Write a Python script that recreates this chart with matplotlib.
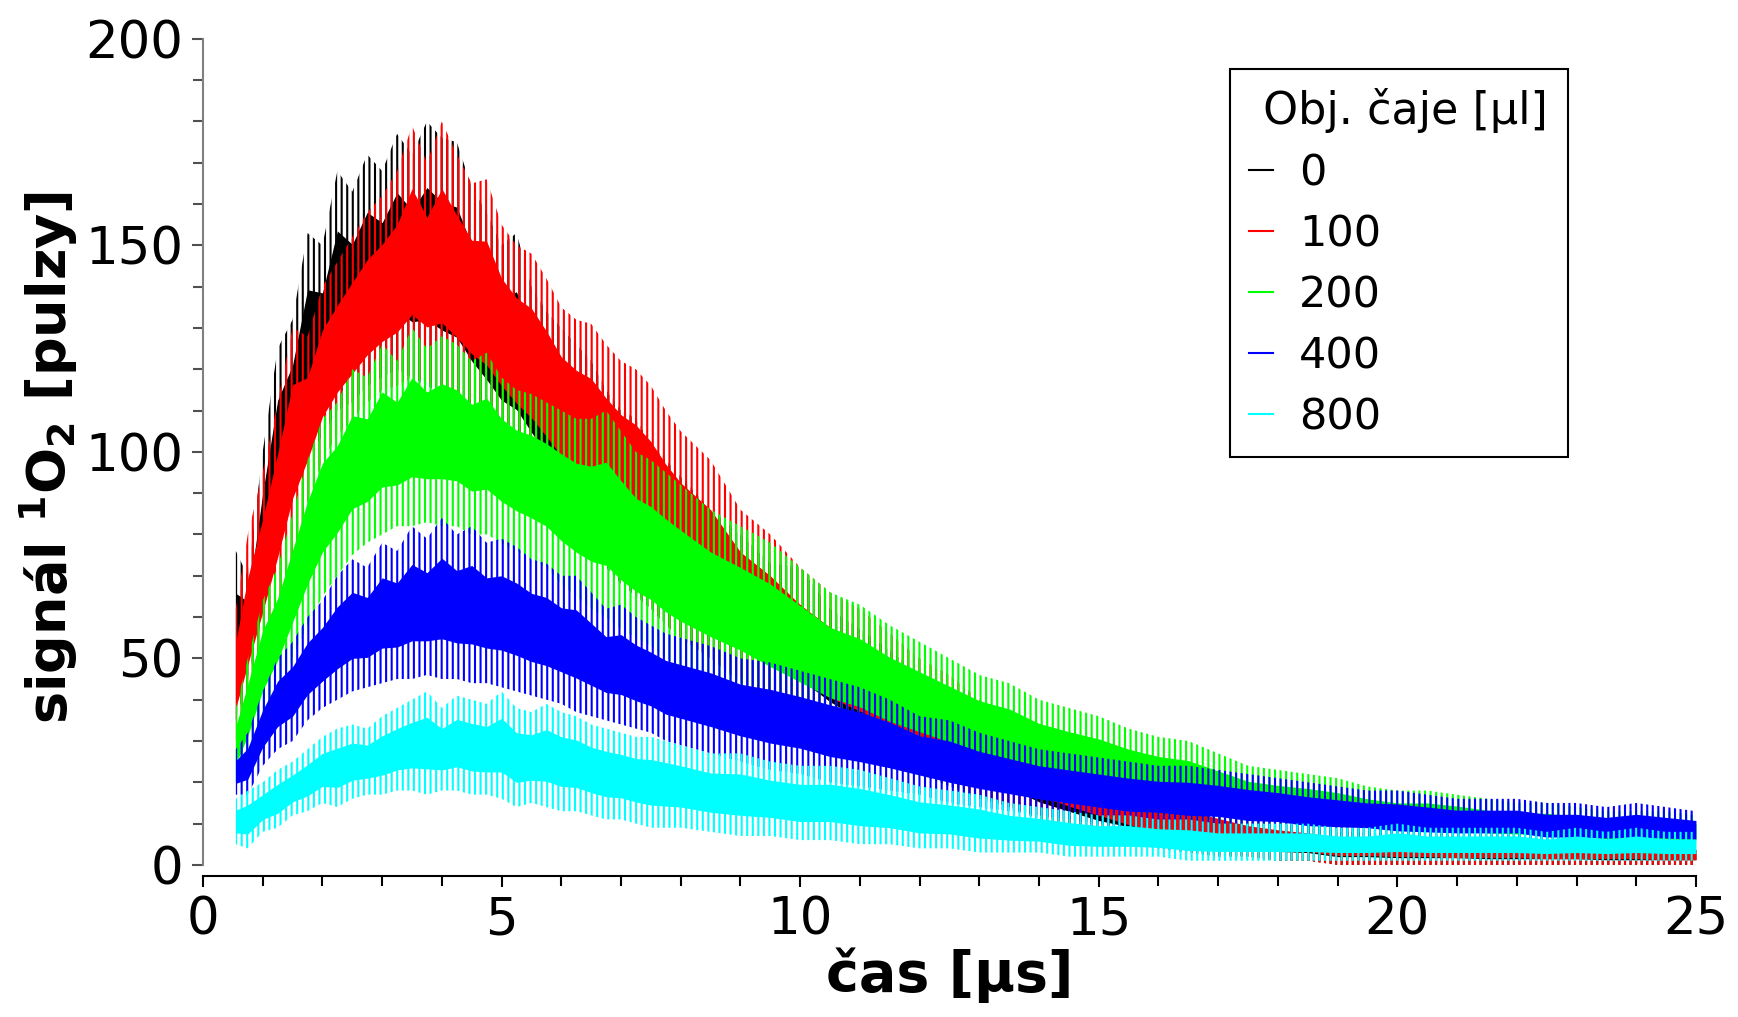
import numpy as np
import matplotlib
matplotlib.use('Agg')
import matplotlib.pyplot as plt
from matplotlib.ticker import MultipleLocator

t = [0.55, 0.75, 1.0, 1.25, 1.5, 1.75, 2.0, 2.25, 2.5, 2.75, 3.0, 3.25, 3.5, 3.75,
     4.0, 4.25, 4.5, 4.75, 5.0, 5.25, 5.5, 5.75, 6.0, 6.25, 6.5, 6.75, 7.0, 7.25,
     7.5, 7.75, 8.0,
     8.5, 9.0, 9.5, 10.0, 10.5, 11.0, 11.5, 12.0, 12.5, 13.0, 13.5, 14.0, 14.5,
     15.0, 15.5, 16.0, 16.5, 17.0, 17.5, 18.0, 18.5, 19.0, 19.5, 20.0, 20.5, 21.0,
     21.5, 22.0, 22.5, 23.0, 23.5, 24.0, 24.5, 25.0]

# lower / upper edge of the noisy signal (pulses) for each tea volume
lo_0 = [35, 45, 60, 75, 88, 98, 104, 110, 112, 116, 118, 120, 118, 116,
        114, 112, 108, 104, 100, 96, 93, 88, 85, 80, 76, 72, 68, 65,
        62, 58, 55,
        50, 44, 40, 36, 32, 28, 25, 22, 19, 16, 14, 11, 9,
        7, 6, 4, 3, 2, 2, 1, 1, 0, 0, 0, 0, 0,
        0, 0, 0, 0, 0, 0, 0, 0]
hi_0 = [76, 70, 100, 125, 132, 153, 150, 168, 163, 172, 168, 177, 172, 180,
        176, 175, 164, 158, 150, 153, 140, 134, 130, 126, 122, 115, 110, 108,
        102, 98, 94,
        86, 80, 73, 72, 62, 57, 52, 46, 42, 37, 33, 28, 25,
        22, 19, 17, 15, 13, 11, 10, 9, 8, 8, 7, 7, 7,
        6, 6, 6, 6, 5, 5, 5, 5]

lo_100 = [30, 38, 50, 62, 75, 88, 98, 104, 108, 112, 115, 116, 118, 117,
          115, 113, 110, 106, 103, 99, 95, 91, 87, 83, 78, 74, 70, 66,
          62, 58, 55,
          50, 45, 40, 36, 32, 29, 26, 23, 20, 17, 14, 12, 10,
          8, 6, 5, 4, 3, 2, 1, 1, 0, 0, 0, 0, 0,
          0, 0, 0, 0, 0, 0, 0, 0]
hi_100 = [62, 80, 95, 112, 130, 128, 140, 146, 152, 158, 162, 168, 179, 170,
          180, 172, 165, 166, 155, 150, 148, 142, 135, 132, 131, 126, 122, 120,
          116, 110, 105,
          98, 86, 80, 72, 66, 62, 56, 50, 46, 40, 36, 31, 27,
          24, 21, 18, 16, 14, 12, 11, 10, 9, 9, 8, 8, 7,
          7, 7, 6, 6, 6, 6, 5, 5]

lo_200 = [20, 25, 35, 42, 50, 58, 65, 70, 75, 78, 80, 82, 82, 83,
          82, 82, 80, 80, 78, 76, 74, 72, 68, 65, 62, 60, 57, 55,
          53, 50, 48,
          45, 42, 38, 35, 32, 30, 27, 25, 23, 21, 19, 17, 15,
          14, 13, 12, 11, 10, 9, 8, 8, 7, 7, 6, 6, 6,
          5, 5, 5, 5, 4, 4, 4, 4]
hi_200 = [38, 50, 64, 72, 85, 98, 108, 112, 120, 118, 126, 122, 130, 125,
          128, 126, 122, 124, 118, 115, 114, 112, 110, 108, 108, 110, 105, 100,
          98, 95, 92,
          86, 82, 78, 72, 66, 63, 58, 54, 50, 46, 44, 40, 38,
          36, 33, 31, 30, 27, 24, 23, 22, 21, 19, 18, 18, 17,
          16, 15, 15, 14, 13, 13, 13, 12]

lo_400 = [17, 17, 24, 28, 30, 35, 38, 40, 42, 43, 44, 45, 45, 46,
          45, 45, 44, 44, 43, 42, 41, 40, 39, 37, 36, 35, 34, 33,
          32, 30, 29,
          27, 25, 23, 22, 20, 19, 18, 17, 15, 14, 13, 12, 11,
          10, 9, 9, 8, 8, 7, 7, 6, 6, 6, 5, 5, 5,
          5, 5, 4, 4, 4, 4, 4, 4]
hi_400 = [28, 32, 42, 50, 54, 60, 64, 70, 74, 72, 78, 76, 82, 79,
          84, 80, 82, 78, 79, 77, 74, 73, 70, 70, 66, 62, 63, 60,
          58, 56, 55,
          53, 50, 49, 47, 45, 43, 40, 36, 35, 32, 30, 28, 27,
          26, 25, 24, 24, 23, 22, 21, 20, 19, 18, 18, 17, 16,
          16, 16, 15, 15, 14, 15, 14, 13]

lo_800 = [5, 4, 8, 9, 12, 13, 15, 14, 16, 17, 17, 18, 18, 17,
          18, 18, 17, 17, 16, 14, 15, 14, 13, 13, 12, 11, 11, 10,
          9, 9, 9,
          8, 7, 7, 6, 6, 5, 5, 4, 4, 3, 3, 3, 2,
          2, 2, 2, 1, 1, 1, 1, 1, 1, 1, 1, 1, 1,
          1, 1, 1, 1, 1, 1, 1, 1]
hi_800 = [16, 18, 20, 23, 25, 28, 31, 33, 34, 33, 36, 38, 40, 42,
          38, 41, 40, 39, 42, 38, 37, 39, 37, 36, 34, 33, 32, 31,
          31, 30, 29,
          27, 27, 25, 24, 24, 23, 21, 19, 18, 17, 15, 14, 13,
          12, 12, 11, 11, 10, 10, 10, 10, 9, 9, 10, 9, 9,
          9, 9, 8, 9, 8, 9, 8, 8]

labels = ['0', '100', '200', '400', '800']
colors = ['black', 'red', '#00ff00', 'blue', 'cyan']
bands = [(lo_0, hi_0), (lo_100, hi_100), (lo_200, hi_200), (lo_400, hi_400), (lo_800, hi_800)]

plt.rcParams['font.family'] = 'DejaVu Sans'
plt.rcParams['hatch.linewidth'] = 1.5

fig = plt.figure(figsize=(17.38, 10.17), dpi=100)
ax = fig.add_axes([0.1168, 0.139, 0.859, 0.8228])

tt = np.array(t)
for (lo, hi), c, lab in zip(bands, colors, labels):
    lo = np.array(lo, float)
    hi = np.array(hi, float)
    # dense middle of the noise drawn solid, sparse spikes hatched around it
    core_lo = lo + 0.25 * (hi - lo)
    core_hi = hi - 0.25 * (hi - lo)
    ax.fill_between(tt, lo, hi, facecolor='none', edgecolor=c, hatch='|||', lw=0)
    ax.fill_between(tt, core_lo, core_hi, color=c, lw=0)
    ax.plot([], [], color=c, lw=1.5, label=lab)

ax.set_xlim(0, 25)
ax.set_ylim(-2.6, 200)
ax.xaxis.set_major_locator(MultipleLocator(5))
ax.xaxis.set_minor_locator(MultipleLocator(1))
ax.yaxis.set_major_locator(MultipleLocator(50))
ax.yaxis.set_minor_locator(MultipleLocator(10))

for s in ['top', 'right']:
    ax.spines[s].set_visible(False)
ax.spines['left'].set_color('#808080')
ax.spines['left'].set_linewidth(1.5)
ax.spines['bottom'].set_linewidth(1.5)
ax.spines['left'].set_bounds(0, 200)
ax.tick_params(axis='both', which='major', length=8, width=1.5, labelsize=37, pad=6)
ax.tick_params(axis='both', which='minor', length=7, width=1.5)
ax.tick_params(axis='y', which='both', color='#505050')

ax.set_xlabel('čas [μs]', fontsize=40, fontweight='bold', labelpad=2)
ax.set_ylabel(r'signál $^{\mathbf{1}}$O$_{\mathbf{2}}$ [pulzy]', fontsize=39,
              fontweight='bold', labelpad=4)

leg = ax.legend(title=' Obj. čaje [μl]', fontsize=31, title_fontsize=32,
                loc='upper right', bbox_to_anchor=(0.914, 0.964), borderaxespad=0,
                alignment='left', handlelength=0.56, handletextpad=0.6,
                labelspacing=0.44, borderpad=0.45, fancybox=False, framealpha=1)
leg.get_frame().set_edgecolor('black')
leg.get_frame().set_linewidth(1.5)

fig.savefig('out.png', dpi=100)
